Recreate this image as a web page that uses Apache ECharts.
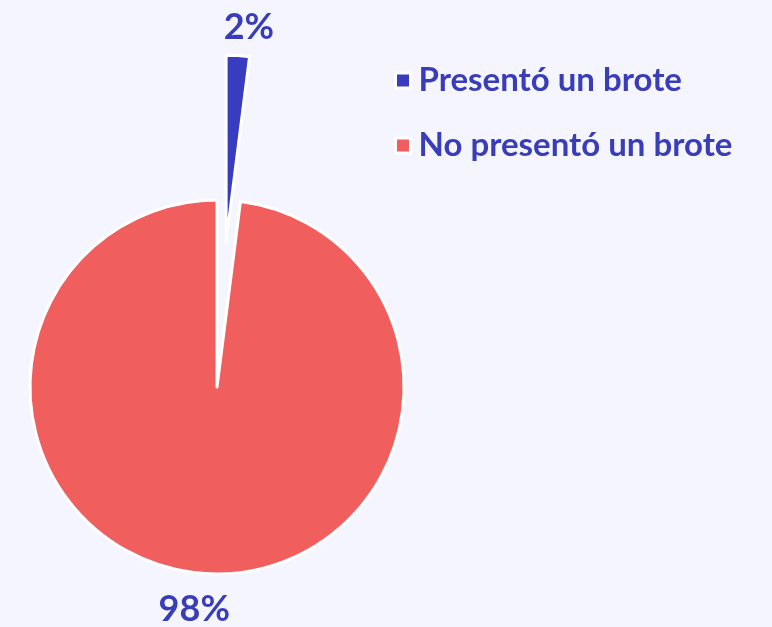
<!DOCTYPE html>
<html>
<head>
<meta charset="UTF-8">
<title>Brote</title>
<style>
    html, body { margin: 0; padding: 0; background: #f4f5fe; }
    #chart1 { width: 772px; height: 627px; }
</style>
<script src="https://cdn.jsdelivr.net/npm/echarts@6/dist/echarts.min.js"></script>
</head>
<body>
    <div id="chart1"></div>
<script type="text/javascript">
    var categories = ['Presentó un brote', 'No presentó un brote'];
    var values = [2, 98];
    var colors = ['#383cbf', '#f05e5e'];

    var myChart1 = echarts.init(document.getElementById('chart1'));

    var option1 = {
        backgroundColor: '#f4f5fe',
        color: colors,
        legend: {
            orient: 'vertical',
            left: 389,
            top: 59,
            icon: 'rect',
            itemWidth: 15,
            itemHeight: 15,
            itemGap: 32,
            itemStyle: {
                borderColor: '#ffffff',
                borderWidth: 3
            },
            textStyle: {
                color: '#3a3db8',
                fontSize: 33,
                fontWeight: 'bold',
                fontFamily: 'Lato',
                padding: [0, 0, 0, 3]
            },
            data: categories
        },
        series: [{
            type: 'pie',
            center: [217, 387],
            radius: 187,
            startAngle: 90,
            clockwise: true,
            selectedMode: 'single',
            selectedOffset: 145,
            animation: false,
            itemStyle: {
                borderColor: '#ffffff',
                borderWidth: 3
            },
            label: {
                show: true,
                position: 'outside',
                formatter: '{d}%',
                color: '#3a3db8',
                fontSize: 36,
                fontWeight: 'bold',
                fontFamily: 'Lato'
            },
            labelLine: { show: false, length: 32, length2: 4 },
            labelLayout: { align: 'center', dy: 4 },
            data: categories.map(function (name, i) {
                return { name: name, value: values[i], selected: i === 0 };
            })
        }]
    };
    myChart1.setOption(option1);
</script>
</body>
</html>
